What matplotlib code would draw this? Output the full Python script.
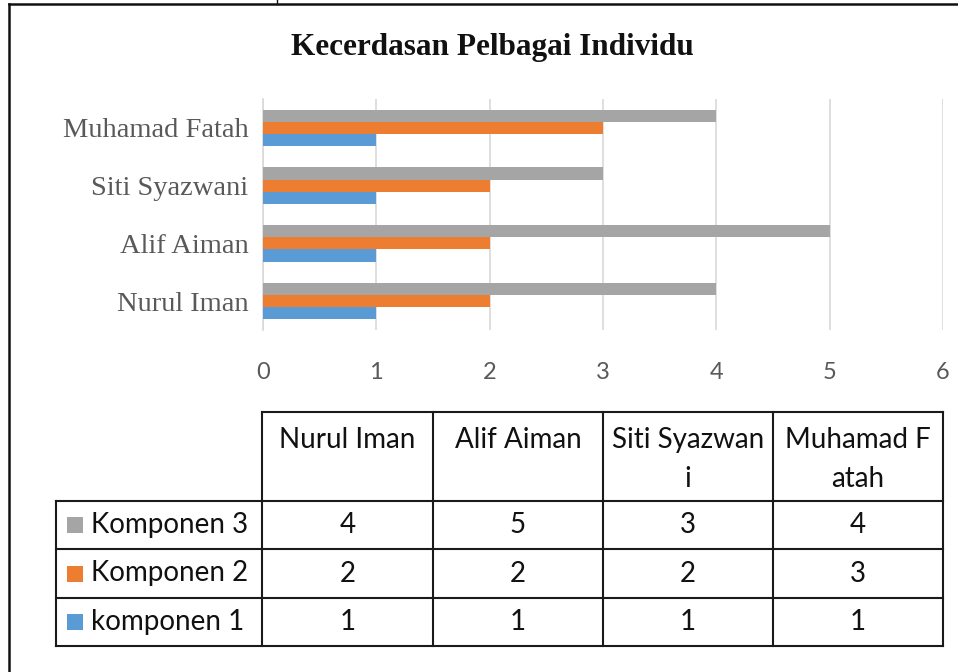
import matplotlib
matplotlib.use("Agg")
import matplotlib.pyplot as plt
from matplotlib.lines import Line2D
from matplotlib.patches import Rectangle
import numpy as np

# ---- data ----
categories = ["Nurul Iman", "Alif Aiman", "Siti Syazwani", "Muhamad Fatah"]
series_names = ["komponen 1", "Komponen 2", "Komponen 3"]
komponen1 = [1, 1, 1, 1]
komponen2 = [2, 2, 2, 3]
komponen3 = [4, 5, 3, 4]
table_headers = ["Nurul Iman", "Alif Aiman", "Siti Syazwan\ni", "Muhamad F\natah"]
x_ticks = [0, 1, 2, 3, 4, 5, 6]
title = "Kecerdasan Pelbagai Individu"
colors = ["#5B9BD5", "#ED7D31", "#A5A5A5"]

W, H = 958, 672
fig = plt.figure(figsize=(W / 100, H / 100), dpi=100)
fig.patch.set_facecolor("white")


def fx(px):
    return px / W


def fy(py):
    return 1 - py / H


# ---- outer frame ----
fig.add_artist(Line2D([fx(9), fx(958)], [fy(4), fy(4)], color="#111111", lw=1.8))
fig.add_artist(Line2D([fx(9), fx(9)], [fy(4), fy(672)], color="#111111", lw=1.8))
fig.add_artist(Line2D([fx(277), fx(277)], [fy(0), fy(4)], color="#111111", lw=1.0))

# ---- title ----
fig.text(fx(492), fy(47), title, ha="center", va="center", fontsize=22.5,
         fontweight="bold", family="Liberation Serif", color="#111111")

# ---- bar chart ----
x0, x1 = 263, 943
y0, y1 = 99, 330
ax = fig.add_axes([fx(x0), fy(y1), fx(x1 - x0), (y1 - y0) / H])
ypos = np.arange(len(categories))
h = 0.21
series = [komponen1, komponen2, komponen3]
for i, (vals, c) in enumerate(zip(series, colors)):
    ax.barh(ypos + (i - 1) * h, vals, height=h, color=c, zorder=3)
ax.set_xlim(x_ticks[0], x_ticks[-1])
ax.set_ylim(-0.5, len(categories) - 0.5)
ax.set_xticks(x_ticks)
ax.set_xticklabels([str(t) for t in x_ticks], family="Lato", fontsize=17, color="#595959")
ax.set_yticks(ypos)
ax.set_yticklabels(categories, family="Liberation Serif", fontsize=20.5, color="#595959")
ax.tick_params(axis="both", length=0)
ax.tick_params(axis="x", pad=23)
ax.tick_params(axis="y", pad=10.5)
ax.grid(axis="x", color="#D9D9D9", lw=1.2, zorder=0)
for s in ["top", "right", "bottom"]:
    ax.spines[s].set_visible(False)
ax.spines["left"].set_color("#D9D9D9")
ax.spines["left"].set_linewidth(1.2)
ax.set_facecolor("none")

# ---- data table ----
col_edges = [262, 433, 603, 773, 943]
row_edges = [412, 501, 549, 598, 646]
label_left = 56
lc = "#1a1a1a"
lw = 1.5
# header top line
fig.add_artist(Line2D([fx(col_edges[0]), fx(col_edges[-1])], [fy(row_edges[0])] * 2, color=lc, lw=lw))
# horizontal lines
for ry in row_edges[1:]:
    fig.add_artist(Line2D([fx(label_left), fx(col_edges[-1])], [fy(ry)] * 2, color=lc, lw=lw))
# vertical lines
for cx in col_edges:
    fig.add_artist(Line2D([fx(cx)] * 2, [fy(row_edges[0]), fy(row_edges[-1])], color=lc, lw=lw))
fig.add_artist(Line2D([fx(label_left)] * 2, [fy(row_edges[1]), fy(row_edges[-1])], color=lc, lw=lw))

tfont = dict(family="Lato", fontsize=20, color="#111111")
for j, hd in enumerate(table_headers):
    cx = (col_edges[j] + col_edges[j + 1]) / 2
    fig.text(fx(cx), fy(427), hd, ha="center", va="top", linespacing=1.6, **tfont)

# rows: Komponen 3, Komponen 2, komponen 1 (top to bottom)
row_series = [2, 1, 0]
for r, si in enumerate(row_series):
    cy = (row_edges[r + 1] + row_edges[r + 2]) / 2
    sq = 16
    fig.add_artist(Rectangle((fx(67), fy(cy + sq / 2)), fx(sq), sq / H,
                             facecolor=colors[si], edgecolor="none"))
    fig.text(fx(91), fy(cy), series_names[si], ha="left", va="center", **tfont)
    for j, v in enumerate(series[si]):
        cx = (col_edges[j] + col_edges[j + 1]) / 2
        fig.text(fx(cx), fy(cy), str(v), ha="center", va="center", **tfont)

fig.savefig("out.png", dpi=100, facecolor="white")
